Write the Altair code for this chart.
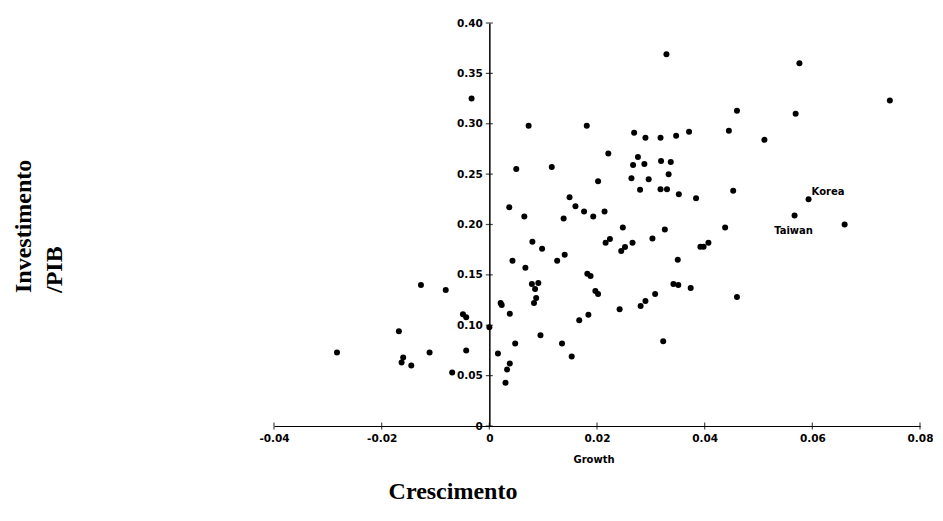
import altair as alt
import pandas as pd

# ---- data ----
growth = [-0.0283, -0.0168, -0.0160, -0.0163, -0.0145, -0.0111, -0.0127, -0.0081, -0.0049, -0.0043,
          -0.0043, -0.0069, -0.0033, 0.0000,
          0.0073, 0.0181, 0.0050, 0.0116, 0.0037, 0.0149, 0.0160, 0.0176, 0.0065, 0.0138,
          0.0193, 0.0080, 0.0098, 0.0043, 0.0067, 0.0126, 0.0140, 0.0182, 0.0188, 0.0079,
          0.0091, 0.0085, 0.0087, 0.0083, 0.0021, 0.0023, 0.0038, 0.0167, 0.0184, 0.0095,
          0.0048, 0.0135, 0.0153, 0.0016, 0.0038, 0.0033, 0.0030,
          0.0329, 0.0576, 0.0744, 0.0460, 0.0569, 0.0269, 0.0290, 0.0318, 0.0347, 0.0371,
          0.0445, 0.0511, 0.0221, 0.0202, 0.0276, 0.0267, 0.0288, 0.0319, 0.0337, 0.0264,
          0.0296, 0.0333, 0.0280, 0.0318, 0.0330, 0.0352, 0.0384, 0.0453, 0.0593, 0.0214,
          0.0248, 0.0326, 0.0438, 0.0567, 0.0660, 0.0216, 0.0224, 0.0245, 0.0252, 0.0266,
          0.0303, 0.0392, 0.0398, 0.0407, 0.0350, 0.0197, 0.0202, 0.0242, 0.0281, 0.0290,
          0.0308, 0.0342, 0.0351, 0.0374, 0.0460, 0.0323]

invest = [0.073, 0.094, 0.068, 0.063, 0.060, 0.073, 0.140, 0.135, 0.111, 0.108,
          0.075, 0.053, 0.325, 0.098,
          0.298, 0.298, 0.255, 0.257, 0.217, 0.227, 0.218, 0.213, 0.208, 0.206,
          0.208, 0.183, 0.176, 0.164, 0.157, 0.164, 0.170, 0.151, 0.149, 0.141,
          0.142, 0.136, 0.127, 0.122, 0.122, 0.120, 0.1115, 0.105, 0.1105, 0.090,
          0.082, 0.082, 0.069, 0.072, 0.062, 0.056, 0.043,
          0.369, 0.360, 0.323, 0.313, 0.310, 0.291, 0.286, 0.286, 0.288, 0.292,
          0.293, 0.284, 0.2705, 0.243, 0.267, 0.259, 0.260, 0.263, 0.262, 0.246,
          0.245, 0.250, 0.2345, 0.235, 0.235, 0.230, 0.226, 0.2335, 0.225, 0.213,
          0.197, 0.195, 0.197, 0.209, 0.200, 0.182, 0.1855, 0.1736, 0.1776, 0.182,
          0.186, 0.178, 0.178, 0.182, 0.165, 0.134, 0.131, 0.116, 0.119, 0.124,
          0.131, 0.141, 0.140, 0.137, 0.128, 0.084]

label_names = ["Korea", "Taiwan"]
label_growth = [0.0593, 0.0567]
label_invest = [0.225, 0.209]

x_ticks = [-0.04, -0.02, 0, 0.02, 0.04, 0.06, 0.08]
y_ticks = [0, 0.05, 0.10, 0.15, 0.20, 0.25, 0.30, 0.35, 0.40]

x_title = "Growth"
bottom_title = "Crescimento"
left_title = ["Investimento", "/PIB"]

# ---- chart ----
W, H = 646, 403
XMIN, XMAX = -0.04, 0.08
SANS = "DejaVu Sans"
SERIF = "Liberation Serif"

x_scale = alt.Scale(domain=[XMIN, XMAX], nice=False, zero=False)
y_scale = alt.Scale(domain=[0, 0.40], nice=False, zero=False)

pts = pd.DataFrame({"growth": growth, "invest": invest})

x_axis = alt.Axis(
    values=x_ticks,
    labelExpr="datum.value == 0 ? '0' : (datum.value < 0 ? '-' : '') + format(abs(datum.value), '.2f')",
    ticks=False, grid=False, title=None, labelFlush=False, labelOverlap=False,
    domainColor="black", domainWidth=1.2,
    labelFont=SANS, labelFontWeight="bold", labelFontSize=10.5, labelColor="black",
    labelPadding=7,
)
y_axis = alt.Axis(
    values=y_ticks,
    labelExpr="datum.value == 0 ? '0' : format(datum.value, '.2f')",
    ticks=False, grid=False, title=None, labelFlush=False, labelOverlap=False,
    domainColor="black", domainWidth=1.5,
    labelFont=SANS, labelFontWeight="bold", labelFontSize=10.5, labelColor="black",
    labelPadding=7,
    offset=-W * (0 - XMIN) / (XMAX - XMIN),
)

points = alt.Chart(pts).mark_point(
    filled=True, shape="circle", size=36, color="black", opacity=1
).encode(
    x=alt.X("growth:Q", scale=x_scale, axis=x_axis),
    y=alt.Y("invest:Q", scale=y_scale, axis=y_axis),
)

yt = pd.DataFrame({"v": y_ticks})
ytick_marks = alt.Chart(yt).mark_tick(
    orient="horizontal", size=7, thickness=1.2, color="black"
).encode(
    x=alt.XDatum(0, scale=x_scale, axis=x_axis),
    y=alt.Y("v:Q", scale=y_scale, axis=y_axis),
)

xt = pd.DataFrame({"v": x_ticks})
xtick_marks = alt.Chart(xt).mark_tick(
    orient="vertical", size=7, thickness=1.2, color="black"
).encode(
    x=alt.X("v:Q", scale=x_scale, axis=x_axis),
    y=alt.YDatum(0, scale=y_scale, axis=y_axis),
)

lab = pd.DataFrame({"g": label_growth, "i": label_invest, "t": label_names})
korea = alt.Chart(lab).transform_filter(alt.datum.t == "Korea").mark_text(
    align="left", baseline="middle", dx=3, dy=-7,
    font=SANS, fontWeight="bold", fontSize=10, color="black"
).encode(
    x=alt.X("g:Q", scale=x_scale, axis=x_axis),
    y=alt.Y("i:Q", scale=y_scale, axis=y_axis),
    text="t:N",
)
taiwan = alt.Chart(lab).transform_filter(alt.datum.t == "Taiwan").mark_text(
    align="center", baseline="middle", dx=-1, dy=16,
    font=SANS, fontWeight="bold", fontSize=10, color="black"
).encode(
    x=alt.X("g:Q", scale=x_scale, axis=x_axis),
    y=alt.Y("i:Q", scale=y_scale, axis=y_axis),
    text="t:N",
)


def free_text(txt, **kw):
    return alt.Chart(pd.DataFrame({"t": [txt]})).mark_text(color="black", **kw).encode(text="t:N")


growth_lbl = free_text(x_title, x=320, y=437, align="center", baseline="middle",
                       font=SANS, fontWeight="bold", fontSize=10)
cresc_lbl = free_text(bottom_title, x=179, y=476, align="center", baseline="alphabetic",
                      font=SERIF, fontWeight="bold", fontSize=24)
inv1 = free_text(left_title[0], x=-250, y=270, angle=270, align="left", baseline="middle",
                 font=SERIF, fontWeight="bold", fontSize=24)
inv2 = free_text(left_title[1], x=-219, y=270, angle=270, align="left", baseline="middle",
                 font=SERIF, fontWeight="bold", fontSize=24)

chart = alt.layer(
    points, ytick_marks, xtick_marks, korea, taiwan, growth_lbl, cresc_lbl, inv1, inv2
).properties(
    width=W, height=H,
    padding={"left": 266, "top": 15, "right": 13, "bottom": 81},
    autosize=alt.AutoSizeParams(type="none"),
    background="white",
).configure_view(stroke=None)

chart.save("out.html", embed_options={"renderer": "svg", "actions": False})
